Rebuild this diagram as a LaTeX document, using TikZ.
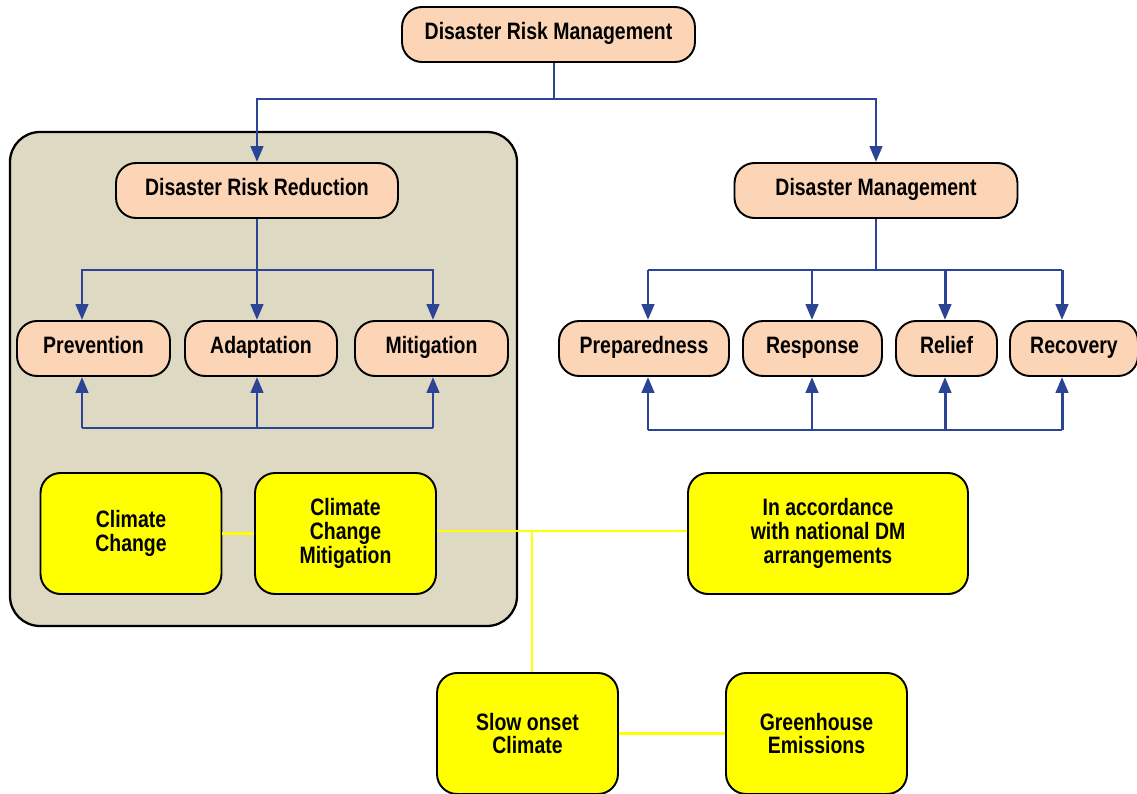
\documentclass[tikz,border=0pt]{standalone}
\usepackage{fontspec}
\setmainfont{Liberation Sans}[FakeStretch=0.82]
\usetikzlibrary{positioning,arrows.meta}
\definecolor{peach}{HTML}{FBD5B5}
\definecolor{linkblue}{HTML}{2B4594}
\definecolor{zonegrey}{HTML}{DDD9C3}
\definecolor{noteyellow}{HTML}{FFFF00}
\tikzset{
  box/.style={draw,line width=1.1pt,rounded corners=0.4cm,fill=peach,minimum height=1.1cm,
    text height=0.72em,text depth=0.2em,font=\bfseries\fontsize{13.5}{13.6}\selectfont},
  note/.style={draw,line width=1.1pt,rounded corners=0.4cm,fill=noteyellow,align=center,
    minimum width=3.62cm,minimum height=2.42cm,font=\bfseries\fontsize{13.5}{13.6}\selectfont},
  link/.style={linkblue,line width=1.7pt},
  feed/.style={link,-{Triangle[length=9pt,width=7pt]}},
  tie/.style={noteyellow,line width=1.4pt}
}
\begin{document}
\begin{tikzpicture}[x=0.02cm,y=-0.02cm]
\useasboundingbox (0,0) rectangle (1137,794);
% grey zone of disaster risk reduction
\draw[line width=1.3pt,fill=zonegrey,rounded corners=0.6cm] (10,132) rectangle (517,626);

\node (drm) [box,minimum width=5.86cm] at (548.5,34.5) {Disaster Risk Management};
\node (drr) [box,minimum width=5.64cm] at (257,190.5) {Disaster Risk Reduction};
\node (dm) [box,minimum width=5.66cm] at (876,190.5) {Disaster Management};

\node (prev) [box,minimum width=3.06cm] at (93.5,348.5) {Prevention};
\node (adap) [box,minimum width=3.04cm] at (261,348.5) {Adaptation};
\node (miti) [box,minimum width=3.06cm] at (431.5,348.5) {Mitigation};

\node (prep) [box,minimum width=3.4cm] at (644,348.5) {Preparedness};
\node (resp) [box,minimum width=2.78cm] at (812.5,348.5) {Response};
\node (reli) [box,minimum width=2.02cm] at (946.5,348.5) {Relief};
\node (reco) [box,minimum width=2.56cm] at (1074,348.5) {Recovery};

\node (cc) [note] at (131,533.5) {Climate\\Change};
\node (ccm) [note] at (345.5,533.5) {Climate\\Change\\Mitigation};
\node (accord) [note,minimum width=5.6cm] at (828,533.5) {In accordance\\with national DM\\arrangements};
\node (slow) [note] at (527.5,733.5) {Slow onset\\Climate};
\node (ghg) [note] at (816.5,733.5) {Greenhouse\\Emissions};

% top split
\coordinate (split) at (554,99);
\draw[link] (554,0 |- drm.south) -- (split);
\draw[feed] (split) -| (drr.north);
\draw[feed] (split) -| (dm.north);

% reduction branch
\coordinate (drrtop) at (257,270);
\coordinate (drrbase) at (257,428);
\draw[link] (drr.south) -- (drrtop);
\draw[feed] (drrtop) -| (82,0 |- prev.north);
\draw[feed] (drrtop) -- (257,0 |- adap.north);
\draw[feed] (drrtop) -| (433,0 |- miti.north);
\draw[link] (82,0 |- drrbase) -- (433,0 |- drrbase);
\draw[feed] (82,0 |- drrbase) -- (82,0 |- prev.south);
\draw[feed] (drrbase) -- (257,0 |- adap.south);
\draw[feed] (433,0 |- drrbase) -- (433,0 |- miti.south);

% management branch
\coordinate (dmtop) at (876,270);
\coordinate (dmbase) at (876,430);
\draw[link] (dm.south) -- (dmtop);
\draw[link] (648,0 |- dmtop) -- (1062,0 |- dmtop);
\draw[feed] (648,0 |- dmtop) -- (648,0 |- prep.north);
\draw[feed] (812,0 |- dmtop) -- (812,0 |- resp.north);
\draw[feed] (945,0 |- dmtop) -- (945,0 |- reli.north);
\draw[feed] (1062,0 |- dmtop) -- (1062,0 |- reco.north);
\draw[link] (648,0 |- dmbase) -- (1062,0 |- dmbase);
\draw[feed] (648,0 |- dmbase) -- (648,0 |- prep.south);
\draw[feed] (812,0 |- dmbase) -- (812,0 |- resp.south);
\draw[feed] (945,0 |- dmbase) -- (945,0 |- reli.south);
\draw[feed] (1062,0 |- dmbase) -- (1062,0 |- reco.south);

% yellow ties
\coordinate (fork) at (532,531);
\draw[tie] (cc) -- (ccm);
\draw[tie] (ccm.east |- fork) -- (accord.west |- fork);
\draw[tie] (fork) -- (fork |- slow.north);
\draw[tie] (slow) -- (ghg);
\end{tikzpicture}
\end{document}
